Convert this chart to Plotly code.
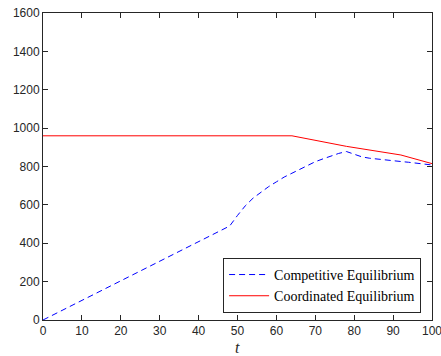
import plotly.graph_objects as go

# Data
t_comp = [0, 48, 50, 52, 54, 56, 58, 60, 62, 64, 66, 68, 70, 72, 74, 76, 78,
          80, 82, 84, 86, 88, 90, 92, 94, 96, 98, 100]
v_comp = [0, 490, 545, 595, 635, 665, 695, 720, 745, 765, 785, 805, 825, 840,
          855, 868, 878, 866, 850, 843, 838, 834, 830, 826, 822, 818, 813, 808]

t_coord = [0, 64, 78, 92, 100]
v_coord = [960, 960, 905, 860, 815]

x_ticks = [0, 10, 20, 30, 40, 50, 60, 70, 80, 90, 100]
y_ticks = [0, 200, 400, 600, 800, 1000, 1200, 1400, 1600]

SERIF = "Liberation Serif"
SANS = "Liberation Sans"

fig = go.Figure()
fig.add_trace(go.Scatter(x=t_comp, y=v_comp, mode="lines",
                         name="Competitive Equilibrium",
                         line=dict(color="#0000ff", width=1, dash="6px,4px")))
fig.add_trace(go.Scatter(x=t_coord, y=v_coord, mode="lines",
                         name="Coordinated Equilibrium",
                         line=dict(color="#ff0000", width=1)))

axis_common = dict(showline=True, linecolor="#262626", linewidth=1, mirror="ticks",
                   ticks="inside", ticklen=5, tickcolor="#262626", showgrid=False,
                   zeroline=False, automargin=False, ticklabeloverflow="allow",
                   tickfont=dict(family=SANS, size=12, color="#262626"))

fig.update_layout(
    width=441, height=356,
    margin=dict(l=43, r=9, t=13, b=36),
    plot_bgcolor="white", paper_bgcolor="white",
    showlegend=True,
    legend=dict(x=0.972, y=0.023, xanchor="right", yanchor="bottom",
                bgcolor="white", bordercolor="#262626", borderwidth=1,
                font=dict(family=SERIF, size=14, color="#000000"),
                itemwidth=40, tracegroupgap=0),
    xaxis=dict(range=[0, 100], tickvals=x_ticks, **axis_common),
    yaxis=dict(range=[0, 1600], tickvals=y_ticks, **axis_common),
    annotations=[dict(text="<i>t</i>", x=0.5, y=-0.091, xref="paper", yref="paper",
                      xanchor="center", yanchor="middle", showarrow=False,
                      font=dict(family=SERIF, size=16, color="#262626"))],
)

# Remove the default page margin so the figure fills the window exactly.
fig.write_html("out.html",
               config={"displayModeBar": False},
               post_script="document.body.style.margin='0';document.body.style.overflow='hidden';")
